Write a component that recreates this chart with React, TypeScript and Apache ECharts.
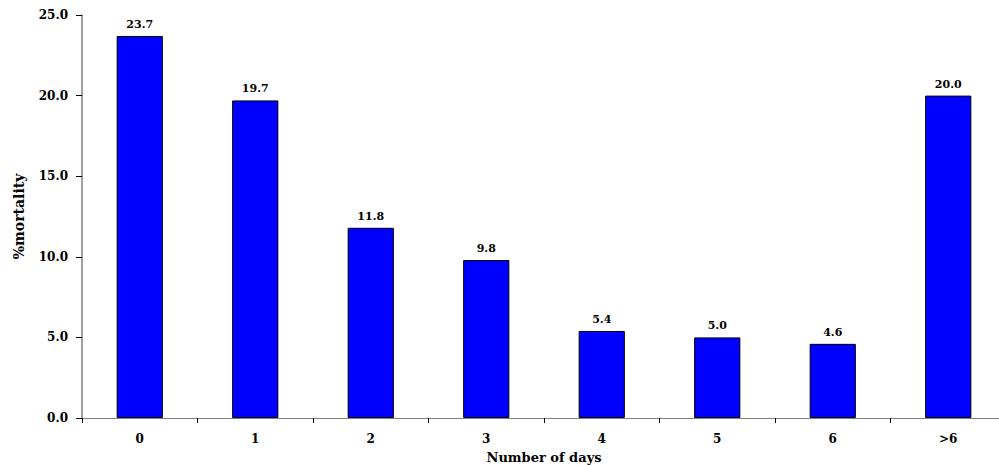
import React, { useEffect, useRef } from "react";
import * as echarts from "echarts";

const categories = ["0", "1", "2", "3", "4", "5", "6", ">6"];
const mortality = [23.7, 19.7, 11.8, 9.8, 5.4, 5.0, 4.6, 20.0];
const yTicks = { min: 0, max: 25, interval: 5 };

const FONT = "'DejaVu Serif', 'Liberation Serif', serif";

export default function App() {
  const ref = useRef<HTMLDivElement>(null);

  useEffect(() => {
    if (!ref.current) return;
    const chart = echarts.init(ref.current, null, { renderer: "svg" });
    chart.setOption({
      animation: false,
      grid: { left: 82, right: -7, top: 15, bottom: 47, outerBoundsMode: "none", containLabel: false },
      xAxis: {
        type: "category",
        data: categories,
        name: "Number of days",
        nameLocation: "middle",
        nameGap: 33,
        nameTextStyle: { fontFamily: FONT, fontWeight: "bold", fontSize: 13, color: "#000" },
        axisLine: { lineStyle: { color: "#808080", width: 1 } },
        axisTick: { show: true, length: 5, lineStyle: { color: "#000" } },
        axisLabel: { fontFamily: FONT, fontWeight: "bold", fontSize: 12, color: "#000", margin: 15 },
      },
      yAxis: {
        type: "value",
        min: yTicks.min,
        max: yTicks.max,
        interval: yTicks.interval,
        name: "%mortality",
        nameLocation: "middle",
        nameGap: 56,
        nameRotate: 90,
        nameTextStyle: { fontFamily: FONT, fontWeight: "bold", fontSize: 14, color: "#000" },
        axisLine: { show: true, lineStyle: { color: "#808080", width: 1.5 } },
        axisTick: { show: true, length: 6, lineStyle: { color: "#000" } },
        splitLine: { show: false },
        axisLabel: {
          fontFamily: FONT,
          fontWeight: "bold",
          fontSize: 12,
          color: "#000",
          margin: 14,
          formatter: (v: number) => v.toFixed(1),
        },
      },
      series: [
        {
          type: "bar",
          data: mortality,
          barWidth: "40%",
          itemStyle: { color: "#0000FF", borderColor: "#000", borderWidth: 1 },
          label: {
            show: true,
            position: "top",
            distance: 6,
            fontFamily: FONT,
            fontWeight: "bold",
            fontSize: 11,
            color: "#000",
            formatter: (p: any) => Number(p.value).toFixed(1),
          },
        },
      ],
    });
    return () => chart.dispose();
  }, []);

  return <div ref={ref} style={{ width: 999, height: 465, position: "absolute", left: 0, top: 0 }} />;
}
